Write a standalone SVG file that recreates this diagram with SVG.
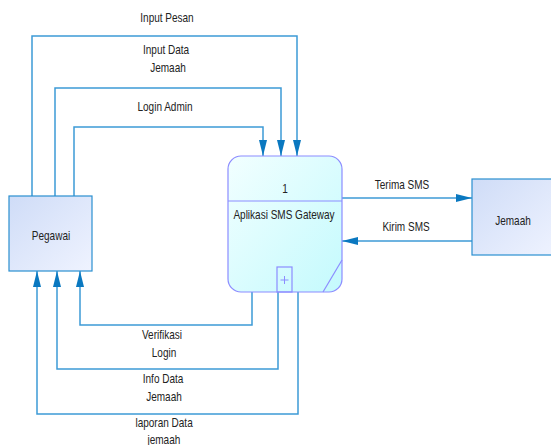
<svg xmlns="http://www.w3.org/2000/svg" width="551" height="445" viewBox="0 0 551 445">
<style>
text{font-family:"Liberation Sans Narrow","Liberation Sans",Arial,sans-serif;font-size:13px;fill:#222;text-anchor:middle;transform-box:fill-box;transform-origin:center;transform:scaleX(0.77)}
.c{fill:none;stroke:#3d9ad6;stroke-width:1.5}
</style>
<defs>
<marker id="ah" viewBox="0 0 16 8" refX="16" refY="4" markerWidth="16" markerHeight="8" markerUnits="userSpaceOnUse" orient="auto">
<path d="M0,0 L16,4 L0,8 Z" fill="#0a78c0"/>
</marker>
<linearGradient id="gp" x1="0" y1="0" x2="1" y2="1">
<stop offset="0" stop-color="#f2ffff"/>
<stop offset="1" stop-color="#c4fafd"/>
</linearGradient>
<linearGradient id="ge" x1="0" y1="0" x2="1" y2="1">
<stop offset="0" stop-color="#cfdcf7"/>
<stop offset="1" stop-color="#eff3ff"/>
</linearGradient>
</defs>
<g id="connectors">
<polyline class="c" points="32,196 32,36 297,36 297,156" marker-end="url(#ah)"/>
<polyline class="c" points="55,196 55,88 281,88 281,156" marker-end="url(#ah)"/>
<polyline class="c" points="74,196 74,127 263,127 263,156" marker-end="url(#ah)"/>
<polyline class="c" points="252,292 252,325 80,325 80,271" marker-end="url(#ah)"/>
<polyline class="c" points="278,292 278,369 57,369 57,271" marker-end="url(#ah)"/>
<polyline class="c" points="298,292 298,414 37,414 37,271" marker-end="url(#ah)"/>
<line class="c" x1="342" y1="198" x2="472" y2="198" marker-end="url(#ah)"/>
<line class="c" x1="472" y1="241" x2="342" y2="241" marker-end="url(#ah)"/>
<text x="167" y="22">Input Pesan</text>
<text x="166" y="54">Input Data</text>
<text x="168" y="72">Jemaah</text>
<text x="165" y="111">Login Admin</text>
<text x="162" y="339">Verifikasi</text>
<text x="164" y="357">Login</text>
<text x="163" y="383">Info Data</text>
<text x="164" y="401">Jemaah</text>
<text x="164" y="427">laporan Data</text>
<text x="164" y="444">jemaah</text>
<text x="402" y="189">Terima SMS</text>
<text x="406" y="231">Kirim SMS</text>
</g>
<g id="process">
<rect x="228" y="156" width="114" height="136" rx="13" fill="url(#gp)" stroke="#8c8cff" stroke-width="1.2"/>
<line x1="228" y1="201" x2="342" y2="201" stroke="#8c8cff" stroke-width="1.2"/>
<rect x="277" y="267" width="15" height="25" fill="none" stroke="#8c8cff" stroke-width="1.2"/>
<path d="M280.5,280 h8 M284.5,276 v8" stroke="#8c8cff" stroke-width="1"/>
<line x1="342" y1="260" x2="323" y2="292" stroke="#8c8cff" stroke-width="1.2"/>
<text x="285" y="193">1</text>
<text x="284" y="219">Aplikasi SMS Gateway</text>
</g>
<g id="pegawai">
<rect x="9" y="196" width="83" height="75" fill="url(#ge)" stroke="#2a8fd0" stroke-width="1.2"/>
<text x="51" y="240">Pegawai</text>
</g>
<g id="jemaah">
<rect x="472" y="179" width="85" height="76" fill="url(#ge)" stroke="#2a8fd0" stroke-width="1.2"/>
<text x="513" y="225">Jemaah</text>
</g>
</svg>
